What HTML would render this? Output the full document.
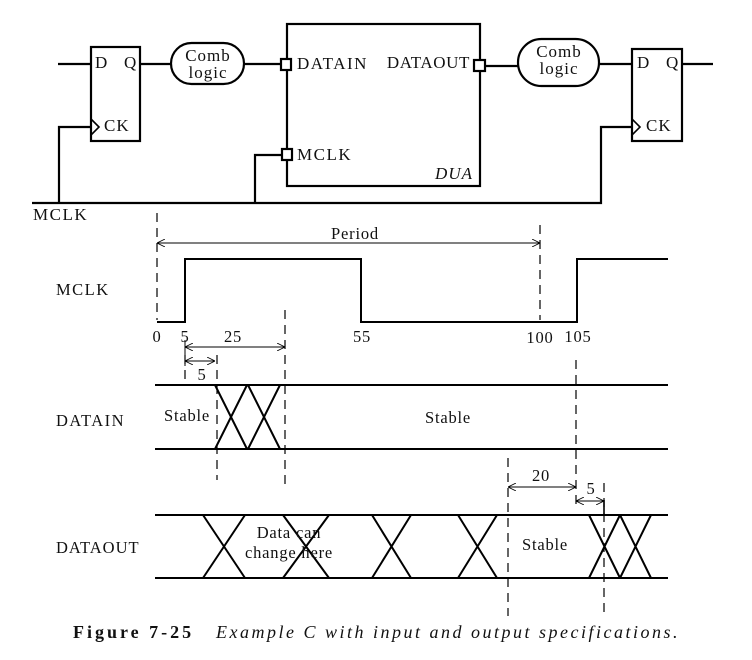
<!DOCTYPE html>
<html><head><style>
body{margin:0;background:#fff}
svg{display:block}
text{font-family:"Liberation Serif",serif;fill:#111}
</style></head><body>
<svg width="752" height="660" viewBox="0 0 752 660" xmlns="http://www.w3.org/2000/svg">
<defs>
<marker id="a" viewBox="0 0 10 10" refX="10" refY="5" markerWidth="8" markerHeight="8" orient="auto-start-reverse" markerUnits="userSpaceOnUse"><path d="M0,0 L10,5 L0,10" fill="none" stroke="#000" stroke-width="1"/></marker>
</defs>
<g stroke="#000" stroke-width="2.2" fill="none">
<rect x="91" y="47" width="49" height="94"/>
<line x1="58" y1="64" x2="91" y2="64"/>
<line x1="140" y1="64" x2="171" y2="64"/>
<path d="M91,119 L99,127 L91,135" stroke-width="1.6"/>
<path d="M32,203 L600,203"/>
<path d="M59,203 L59,127 L91,127"/>
<rect x="171" y="43" width="73" height="41" rx="20.5"/>
<line x1="244" y1="64" x2="281" y2="64"/>
<rect x="287" y="24" width="193" height="162"/>
<rect x="281" y="59" width="10" height="11" fill="#fff"/>
<rect x="282" y="149" width="10" height="11" fill="#fff"/>
<path d="M255,203 L255,155 L282,155"/>
<rect x="474" y="60" width="11" height="11" fill="#fff"/>
<line x1="485" y1="66" x2="518" y2="66"/>
<rect x="518" y="39" width="81" height="47" rx="23.5"/>
<line x1="599" y1="64" x2="632" y2="64"/>
<rect x="632" y="49" width="50" height="92"/>
<path d="M632,119 L640,127 L632,135" stroke-width="1.6"/>
<path d="M600,203 L601,203 L601,127 L632,127"/>
<line x1="682" y1="64" x2="713" y2="64"/>
</g>
<g font-size="17" letter-spacing="1">
<text x="95" y="68">D</text><text x="124" y="68">Q</text>
<text x="104" y="131">CK</text>
<text x="208" y="61" text-anchor="middle">Comb</text><text x="208" y="78" text-anchor="middle">logic</text>
<text x="297" y="69" letter-spacing="1.5">DATAIN</text>
<text x="470" y="68" text-anchor="end" letter-spacing="0.6">DATAOUT</text>
<text x="297" y="160" letter-spacing="1.5">MCLK</text>
<text x="473" y="179" text-anchor="end" font-style="italic">DUA</text>
<text x="559" y="57" text-anchor="middle">Comb</text><text x="559" y="74" text-anchor="middle">logic</text>
<text x="637" y="68">D</text><text x="666" y="68">Q</text>
<text x="646" y="131">CK</text>
<text x="33" y="220" letter-spacing="1.5">MCLK</text>
</g>
<g stroke="#000" stroke-width="2" fill="none">
<path d="M157,322 L185,322 L185,259 L361,259 L361,322 L577,322 L577,259 L668,259"/>
<line x1="155" y1="385" x2="668" y2="385"/><line x1="155" y1="449" x2="668" y2="449"/>
<path d="M215,385 L247,449 M247,385 L215,449 M248,385 L280,449 M280,385 L248,449"/>
<line x1="155" y1="515" x2="668" y2="515"/><line x1="155" y1="578" x2="668" y2="578"/>
<path d="M203,515 L245,578 M245,515 L203,578 M283,515 L329,578 M329,515 L283,578 M372,515 L411,578 M411,515 L372,578 M458,515 L497,578 M497,515 L458,578 M589,515 L620,578 M620,515 L589,578 M620,515 L651,578 M651,515 L620,578"/>
</g>
<g stroke="#000" stroke-width="1.2" fill="none" stroke-dasharray="9,6">
<line x1="157" y1="213" x2="157" y2="320"/>
<line x1="540" y1="225" x2="540" y2="320"/>
<line x1="285" y1="310" x2="285" y2="487"/>
<line x1="185" y1="355" x2="185" y2="385"/>
<line x1="217" y1="355" x2="217" y2="480"/>
<line x1="576" y1="360" x2="576" y2="505"/>
<line x1="508" y1="458" x2="508" y2="616"/>
<line x1="604" y1="483" x2="604" y2="616"/>
</g>
<g stroke="#000" stroke-width="1" fill="none">
<line x1="157" y1="243" x2="540" y2="243" marker-start="url(#a)" marker-end="url(#a)"/>
<line x1="185" y1="347" x2="285" y2="347" marker-start="url(#a)" marker-end="url(#a)"/>
<line x1="185" y1="361" x2="215" y2="361" marker-start="url(#a)" marker-end="url(#a)"/>
<line x1="508" y1="487" x2="576" y2="487" marker-start="url(#a)" marker-end="url(#a)"/>
<line x1="576" y1="501" x2="604" y2="501" marker-start="url(#a)" marker-end="url(#a)"/>
<line x1="185" y1="340" x2="185" y2="366"/>
<line x1="604" y1="500" x2="604" y2="515" stroke-width="1.6"/>
</g>
<g font-size="16.5" letter-spacing="0.8">
<text x="355" y="239" text-anchor="middle">Period</text>
<text x="56" y="295" letter-spacing="1.5">MCLK</text>
<text x="56" y="426" letter-spacing="1.5">DATAIN</text>
<text x="56" y="553" letter-spacing="1">DATAOUT</text>
<text x="157" y="342" text-anchor="middle">0</text>
<text x="185" y="342" text-anchor="middle">5</text>
<text x="233" y="342" text-anchor="middle">25</text>
<text x="362" y="342" text-anchor="middle">55</text>
<text x="540" y="343" text-anchor="middle">100</text>
<text x="578" y="342" text-anchor="middle">105</text>
<text x="202" y="380" text-anchor="middle">5</text>
<text x="187" y="421" text-anchor="middle">Stable</text>
<text x="448" y="423" text-anchor="middle">Stable</text>
<text x="541" y="481" text-anchor="middle">20</text>
<text x="591" y="494" text-anchor="middle">5</text>
<text x="289" y="538" text-anchor="middle">Data can</text>
<text x="289" y="558" text-anchor="middle">change here</text>
<text x="545" y="550" text-anchor="middle">Stable</text>
</g>
<text x="73" y="638" font-size="18" font-weight="bold" letter-spacing="3">Figure 7-25</text>
<text x="216" y="638" font-size="18" font-style="italic" letter-spacing="2.5">Example C with input and output specifications.</text>
</svg>
</body></html>
